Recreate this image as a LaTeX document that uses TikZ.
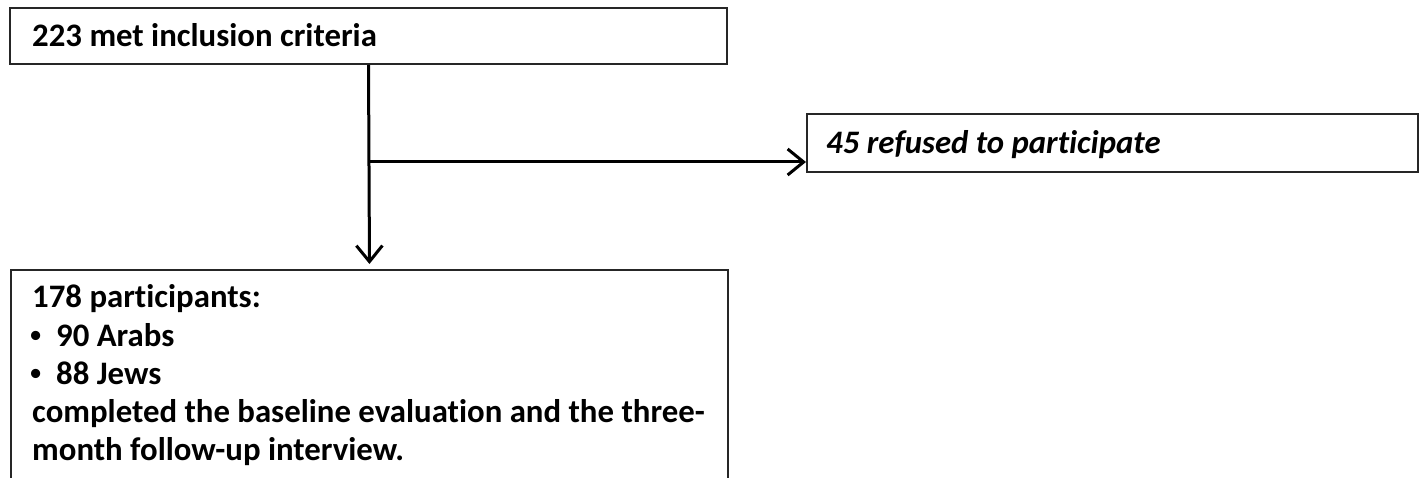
\documentclass[tikz,border=0pt]{standalone}
\usepackage{fontspec}
\setmainfont{Carlito}[Ligatures={NoCommon}, RawFeature={-liga;-clig;-calt;-dlig}]
\newfontfamily\bulletfont{Liberation Sans}
\usetikzlibrary{arrows.meta}
\begin{document}
\begin{tikzpicture}[x=1pt,y=-1pt,
  box/.style={draw=black!85, line width=2pt, inner sep=0pt, rectangle},
  txt/.style={inner sep=0pt, anchor=base west, font=\bfseries\fontsize{32.8}{38.4}\selectfont},
  itxt/.style={txt, font=\bfseries\itshape\fontsize{32.8}{38.4}\selectfont},
  bul/.style={txt, font=\bulletfont\bfseries\fontsize{32}{38.4}\selectfont},
  conn/.style={line width=3pt, -{Straight Barb[length=16pt,width=26pt,line width=3pt]}}]
\useasboundingbox[fill=white] (0,0) rectangle (1421,478);
\node[box, minimum width=717pt, minimum height=56pt] (top) at (368.5,36) {};
\node[txt] (toptxt) at (32,47) {223 met inclusion criteria};
\node[box, minimum width=611pt, minimum height=58pt] (ref) at (1112.5,143) {};
\node[itxt] (reftxt) at (826,154) {45 refused to participate};
\node[box, anchor=north west, minimum width=717pt, minimum height=260pt] (bot) at (10,269) {};
\node[txt] (l1) at (32,308) {178 participants:};
\node[bul] (b1) at (30,346) {•};
\node[txt] (l2) at (56,346) {90 Arabs};
\node[bul] (b2) at (30,384) {•};
\node[txt] (l3) at (56,384) {88 Jews};
\node[txt] (l4) at (32,422) {completed the baseline evaluation and the three-};
\node[txt] (l5) at (32,460) {month follow-up interview.};
\coordinate (br) at (368.5,162);
\draw[conn, shorten >=5pt] (top.south) -- (bot.north);
\draw[conn] (br) -- (br -| ref.west);
\end{tikzpicture}
\end{document}
